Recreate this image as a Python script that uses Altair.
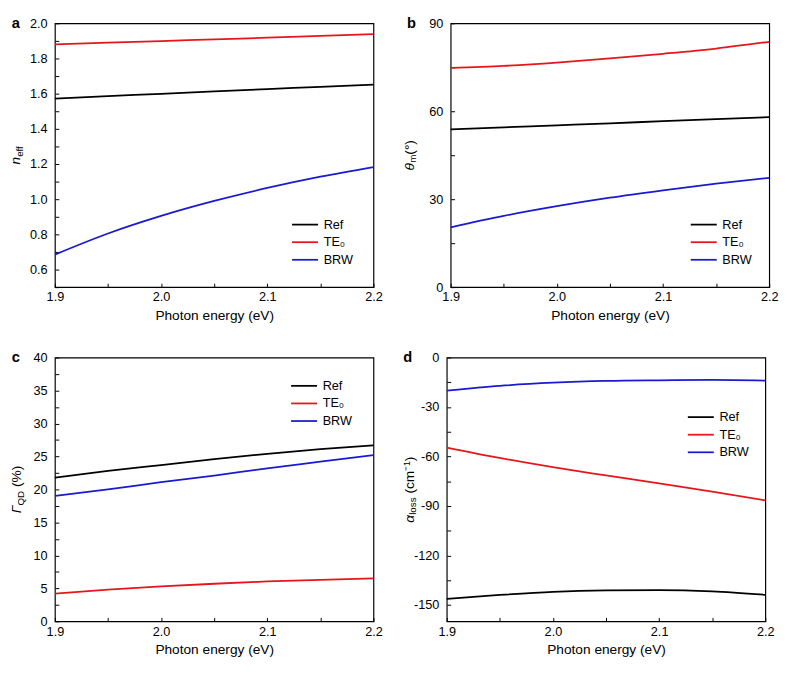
import altair as alt
import pandas as pd

# ---------------- data ----------------
energy = [1.90, 1.95, 2.00, 2.05, 2.10, 2.15, 2.20]
series_names = ["Ref", "TE\u2080", "BRW"]
series_colors = ["#000000", "#e8151b", "#1a1ad2"]

# panel a: effective index
a_ref = [1.572, 1.586, 1.599, 1.613, 1.626, 1.639, 1.652]
a_te0 = [1.880, 1.890, 1.899, 1.909, 1.918, 1.928, 1.938]
a_brw = [0.685, 0.805, 0.905, 0.990, 1.064, 1.128, 1.183]

# panel b: theta_m (deg)
b_ref = [53.8, 54.5, 55.2, 55.9, 56.6, 57.3, 58.0]
b_te0 = [74.8, 75.5, 76.6, 78.0, 79.6, 81.4, 83.7]
b_brw = [20.4, 24.3, 27.6, 30.5, 33.0, 35.3, 37.3]

# panel c: Gamma_QD (%)
c_ref = [21.8, 22.8, 23.7, 24.6, 25.4, 26.1, 26.7]
c_te0 = [4.2, 4.8, 5.3, 5.7, 6.05, 6.3, 6.5]
c_brw = [19.0, 20.0, 21.1, 22.1, 23.2, 24.2, 25.2]

# panel d: alpha_loss (cm^-1)
d_ref = [-146.4, -144.0, -142.1, -141.2, -141.0, -141.8, -143.9]
d_te0 = [-54.6, -60.9, -66.5, -71.5, -76.4, -81.4, -86.6]
d_brw = [-20.1, -17.2, -15.3, -14.2, -13.8, -13.6, -14.0]

x_tick_values = [1.90, 1.95, 2.00, 2.05, 2.10, 2.15, 2.20]
a_ticks = [0.5, 0.6, 0.7, 0.8, 0.9, 1.0, 1.1, 1.2, 1.3, 1.4, 1.5, 1.6, 1.7, 1.8, 1.9, 2.0]
b_ticks = [0, 15, 30, 45, 60, 75, 90]
c_ticks = [0, 2.5, 5, 7.5, 10, 12.5, 15, 17.5, 20, 22.5, 25, 27.5, 30, 32.5, 35, 37.5, 40]
d_ticks = [-150, -135, -120, -105, -90, -75, -60, -45, -30, -15, 0]

FONT = "Liberation Sans"
W, H = 326, 270


def long_df(ref, te0, brw):
    rows = []
    for name, vals in zip(series_names, (ref, te0, brw)):
        for e, v in zip(energy, vals):
            rows.append({"energy": e, "value": v, "series": name})
    return pd.DataFrame(rows)


def axis_common():
    return dict(offset=-4, tickSize=4, tickWidth=1, tickColor="black", domain=False,
                labelFont=FONT, labelFontSize=13, labelColor="black",
                labelFlush=False, labelOverlap=False, grid=False)


# approximate advance widths (em) for title layout
CHAR_W = {"n": 0.556, "\u03b8": 0.556, "\u0393": 0.556, "\u03b1": 0.578,
          "e": 0.556, "f": 0.278, "m": 0.833, "Q": 0.778, "D": 0.722, "l": 0.222,
          "o": 0.556, "s": 0.5, "(": 0.333, ")": 0.333, "\u00b0": 0.4, " ": 0.278,
          "%": 0.889, "c": 0.5, "\u207b": 0.4, "\u00b9": 0.333}


def text_w(t, size):
    return sum(CHAR_W.get(ch, 0.55) for ch in t) * size


def panel(df, letter, ydom, yticks, ylabel_expr, title_parts, title_x, legend_xy):
    x_enc = alt.X("energy:Q", scale=alt.Scale(domain=[1.9, 2.2], nice=False, zero=False),
                  axis=alt.Axis(values=x_tick_values,
                                labelExpr="abs(datum.value*10 - round(datum.value*10)) < 0.001 ? format(datum.value, '.1f') : ''",
                                title="Photon energy (eV)", titleFont=FONT, titleFontSize=14,
                                titleFontWeight="normal", titleColor="black", titlePadding=5,
                                labelPadding=4, **axis_common()))
    y_enc = alt.Y("value:Q", scale=alt.Scale(domain=ydom, nice=False, zero=False),
                  axis=alt.Axis(values=yticks, labelExpr=ylabel_expr, title=None,
                                labelPadding=8, **axis_common()))
    lines = alt.Chart(df).mark_line(strokeWidth=1.8, interpolate="monotone").encode(
        x=x_enc, y=y_enc,
        color=alt.Color("series:N",
                        scale=alt.Scale(domain=series_names, range=series_colors),
                        legend=alt.Legend(title=None, orient="none",
                                          legendX=legend_xy[0], legendY=legend_xy[1],
                                          symbolType="M-1.9,0L1.9,0", symbolSize=196,
                                          symbolStrokeWidth=1.8, labelFont=FONT,
                                          labelFontSize=13, labelColor="black",
                                          padding=0, rowPadding=3, labelOffset=11)),
    )
    letter_layer = alt.Chart(pd.DataFrame({"t": [letter]})).mark_text(
        font=FONT, fontSize=15, fontWeight="bold", align="center", baseline="middle",
        color="black").encode(text="t:N", x=alt.value(-40), y=alt.value(0))

    layers = [lines, letter_layer]
    total = sum(text_w(t, s) + gap for t, s, _, _, gap in title_parts)
    pos = H / 2 + total / 2
    for t, s, italic, dx, gap in title_parts:
        pos -= gap
        kw = dict(font=FONT, fontSize=s, angle=270, align="left", baseline="alphabetic",
                  color="black")
        if italic:
            kw["fontStyle"] = "italic"
        layers.append(alt.Chart(pd.DataFrame({"t": [t]})).mark_text(**kw).encode(
            text="t:N", x=alt.value(title_x + dx), y=alt.value(pos)))
        pos -= text_w(t, s)
    return alt.layer(*layers).properties(width=W, height=H)


pa = panel(long_df(a_ref, a_te0, a_brw), "a", [0.5, 2.0], a_ticks,
           "abs(datum.value*5 - round(datum.value*5)) < 0.001 ? format(datum.value, '.1f') : ''",
           [("n", 14, True, 0, 0), ("eff", 10, False, 3, 0)], -36, (W - 78, H - 72))
pb = panel(long_df(b_ref, b_te0, b_brw), "b", [0, 90], b_ticks,
           "datum.value % 30 == 0 ? '' + datum.value : ''",
           [("\u03b8", 14, True, 0, 0), ("m", 10, False, 3, 0), ("(\u00b0)", 14, False, 0, 0)],
           -38, (W - 75, H - 72))
pc = panel(long_df(c_ref, c_te0, c_brw), "c", [0, 40], c_ticks,
           "datum.value % 5 == 0 ? '' + datum.value : ''",
           [("\u0393", 14, True, 0, 0), ("QD", 10, False, 3, 0), ("(%)", 14, False, 0, 4)],
           -35, (W - 79, 21))
pd_ = panel(long_df(d_ref, d_te0, d_brw), "d", [-160, 0], d_ticks,
            "datum.value % 30 == 0 ? '' + datum.value : ''",
            [("\u03b1", 14, True, 0, 0), ("loss", 10, False, 3, 0), ("(cm\u207b\u00b9)", 14, False, 0, 4)],
            -34, (W - 74, 53))

row1 = alt.hconcat(pa, pb, spacing=19).resolve_scale(color="independent").resolve_legend(color="independent")
row2 = alt.hconcat(pc, pd_, spacing=19).resolve_scale(color="independent").resolve_legend(color="independent")

chart = alt.vconcat(row1, row2, spacing=27).resolve_scale(
    color="independent").resolve_legend(color="independent").properties(
    padding={"left": 0, "top": 0, "right": 0, "bottom": 0},
    background="white",
).configure_view(stroke="black", strokeWidth=1.2)

chart.save("out.html", embed_options={"renderer": "svg", "actions": False})
